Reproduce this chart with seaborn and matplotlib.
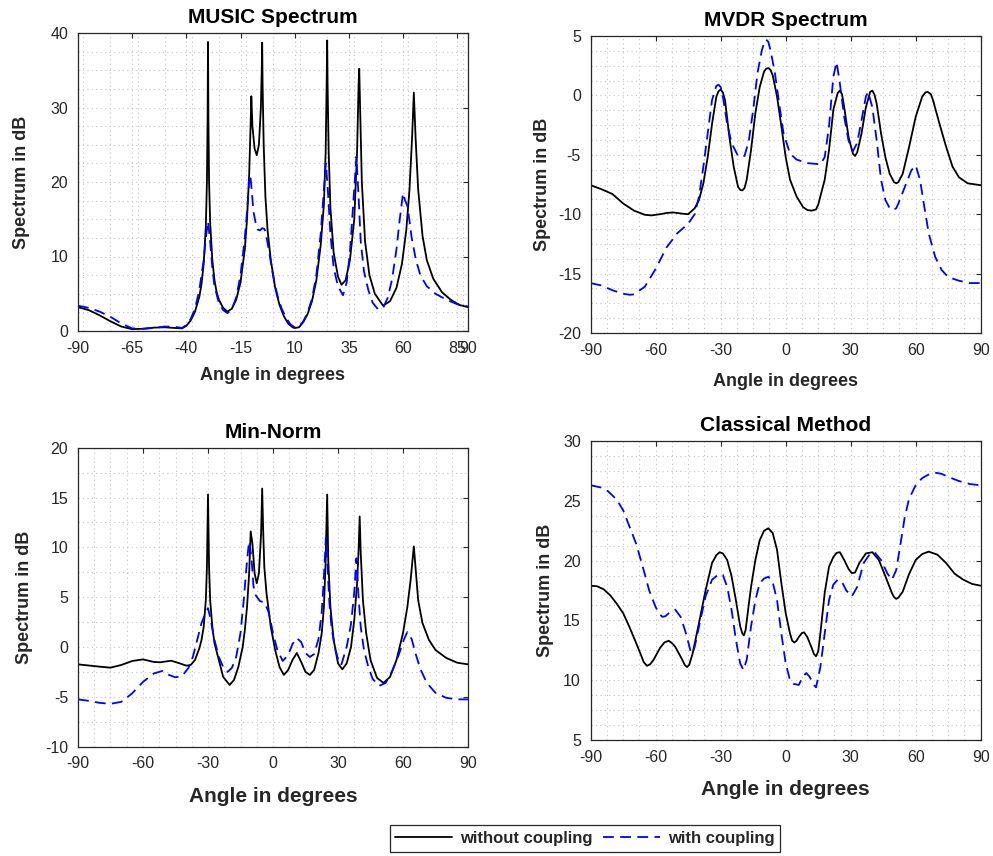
import numpy as np
import pandas as pd
import matplotlib
matplotlib.use("Agg")
import matplotlib.pyplot as plt
from matplotlib.ticker import MultipleLocator, FixedLocator
import seaborn as sns

# ---------------- data ----------------
series_labels = ["without coupling", "with coupling"]
titles = ["MUSIC Spectrum", "MVDR Spectrum", "Min-Norm", "Classical Method"]

# MUSIC
music_ang_wo = [-90, -85, -80, -75, -70, -65, -60, -55, -50, -45, -42, -40, -38, -36, -34, -33, -32, -31,
                -30.5, -30.2, -30, -29.8, -29.5, -29, -28, -27, -26, -25, -23, -21, -19, -17, -15, -13, -12,
                -11, -10.3, -10, -9.5, -8.5, -7.5, -6.5, -5.6, -5.2, -5, -4.8, -4.3, -3.5, -2.5, -1, 1, 3, 5,
                7, 9, 10, 12, 14, 16, 18, 20, 22, 23.5, 24.3, 24.8, 25, 25.2, 25.7, 26.5, 28, 30, 31.6, 33.5,
                35.5, 37.5, 38.8, 39.5, 39.8, 40.2, 41, 42.5, 44.5, 47, 50.8, 54, 57, 59.5, 61.5, 63, 64.2,
                65, 65.8, 67, 69, 71, 74, 78, 82, 86, 90]
music_db_wo = [3.2, 2.8, 2.1, 1.3, 0.6, 0.25, 0.3, 0.45, 0.5, 0.4, 0.35, 0.7, 1.4, 2.6, 4.6, 6.3, 9.0, 14,
               20, 28, 38.8, 28, 20, 14.5, 9.5, 6.8, 5.2, 4.2, 3.1, 2.6, 3.0, 4.2, 6.5, 11, 15,
               21, 28, 31.5, 27.5, 24.5, 23.6, 25, 30, 35, 38.7, 33, 25, 18, 13.5, 9.5, 5.8, 3.5, 2.0,
               1.0, 0.5, 0.4, 0.5, 1.2, 2.3, 4.0, 6.8, 11.5, 17, 24, 34, 39, 33, 24, 16.5, 10.5, 7.3, 6.2, 6.8,
               9.5, 15, 24, 33, 35.2, 30, 20, 12, 7.5, 5, 3.4, 4.0, 5.8, 9, 13.5, 19, 26,
               32, 26, 19, 12.8, 9.5, 7, 5.2, 4.2, 3.5, 3.2]
music_ang_w = [-90, -85, -80, -75, -70, -65, -60, -55, -50, -45, -42, -40, -38, -36, -34, -32, -31, -30,
               -29, -28, -27, -25, -23, -21, -19, -17, -15, -13, -12, -11, -10.5, -10, -9, -8, -7, -6, -5,
               -4, -3.5, -2, 0, 2, 4, 6, 8, 10, 12, 14, 16, 18, 20, 22, 23.5, 24.4, 25.3, 26.5, 28, 30, 32.3,
               34, 35.5, 37, 38.5, 39.5, 40.5, 42, 44, 46, 48.5, 51, 53, 55, 57, 58.5, 60, 61, 62, 63, 64,
               66, 68, 71, 75, 80, 85, 90]
music_db_w = [3.4, 3.1, 2.6, 1.9, 1.0, 0.35, 0.3, 0.4, 0.6, 0.55, 0.4, 0.8, 1.6, 3.0, 5.5, 9.5, 12.5, 14.7,
              12, 8.5, 6, 3.8, 2.8, 2.4, 2.9, 4.5, 7.5, 12.5, 16, 20, 21, 19.5, 16, 14.5, 13.6, 13.5, 13.8,
              13.7, 13.4, 11, 7.5, 4.8, 3, 1.8, 0.9, 0.5, 0.6, 1.3, 2.5, 4.3, 7.5, 13, 19, 22.5, 19, 13, 8.5, 6, 4.8,
              6.5, 10.5, 17, 23.4, 18, 12, 8, 5.5, 3.8, 2.9, 3.2, 4.5, 7, 11, 15, 18.5, 17.5, 16.8, 14.8, 12.5,
              9.5, 7.5, 6, 5, 4.2, 3.6, 3.3]

# MVDR
mvdr_ang_wo = [-90, -85, -80, -75, -70, -65, -62, -58, -55, -52, -48, -45, -42, -40, -38, -36, -34, -32, -31,
               -30, -29, -28, -26, -24, -22, -21, -20, -19, -18, -16, -14, -12, -10, -9, -8, -7, -6, -4, -2,
               0, 2, 5, 8, 10, 12, 14, 15, 18, 20, 22, 24, 25, 26, 27, 29, 31, 32, 33, 35, 37, 39, 40, 41,
               42, 44, 46, 48, 50, 51, 52, 54, 57, 60, 63, 64.5, 65.5, 67, 68, 71, 74, 77, 80, 84, 90]
mvdr_db_wo = [-7.56, -7.9, -8.3, -9.1, -9.7, -10.05, -10.1, -10.0, -9.9, -9.85, -9.95, -10, -9.5, -8.8, -7.4,
              -5.2, -2.4, -0.1, 0.35, 0.5, 0.25, -0.4, -3.5, -6, -7.7, -7.95, -8.0, -7.8, -7.1, -4.6, -1.5, 0.7,
              2.0, 2.25, 2.3, 2.15, 1.7, -0.1, -2.6, -5.2, -7.1, -8.5, -9.4, -9.65, -9.7, -9.6, -9.2, -7.1,
              -4.6, -1.2, 0.2, 0.4, 0.1, -1, -3.5, -4.9, -5.1, -4.8, -3.2, -1, 0.3, 0.4, 0.05, -0.7, -3.2,
              -5.2, -6.6, -7.3, -7.4, -7.3, -6.6, -4.3, -1.8, -0.1, 0.25, 0.3, 0.1, -0.4, -2.4, -4.3, -6,
              -6.9, -7.4, -7.56]
mvdr_ang_w = [-90, -85, -80, -75, -72, -70, -65, -60, -55, -50, -45, -42, -40, -38, -36, -34, -32, -31, -30,
              -29, -27, -25, -22, -19, -17, -15, -13, -11, -10, -9, -8, -7, -5, -3, -1, 2, 5, 10, 16, 18,
              20, 22, 23.5, 25, 27, 29, 31, 33, 35, 37, 38, 40, 42, 44, 46, 48, 49.5, 51, 52, 55, 58, 60, 62,
              64, 66, 69, 72, 75, 80, 85, 90]
mvdr_db_w = [-15.8, -16, -16.4, -16.7, -16.78, -16.75, -16.1, -14.6, -12.8, -11.6, -10.8, -10, -8.5, -6, -3.2,
             -0.4, 0.8, 0.9, 0.7, -0.1, -2.4, -4, -5.1, -5.1, -3.8, -1.2, 1.9, 3.8, 4.4, 4.7, 4.5, 3.8, 1.9,
             -0.7, -3.2, -4.9, -5.4, -5.7, -5.8, -5.2, -2.6, 1.6, 2.8, 1, -1.8, -3.8, -4.7, -4, -2.1, -0.1,
             0.3, -1, -3.8, -7.1, -8.8, -9.5, -9.65, -9.5, -9.1, -7.7, -6.3, -5.9, -7.1, -9.4, -11.6, -13.6,
             -14.7, -15.3, -15.6, -15.8, -15.8]

# Min-Norm
mn_ang_wo = [-90, -80, -75, -70, -65, -60, -55, -52, -47, -43, -40, -38, -36, -34, -33, -32, -31, -30.5, -30,
             -29.5, -29, -28, -27, -25, -23, -20, -18, -16, -14, -13, -12, -11, -10.3, -9.5, -8.5, -7.5,
             -6.5, -5.5, -5, -4.5, -4, -3, -1, 1, 3, 5, 7, 9, 11, 13, 15, 17, 19, 21, 22.5, 23.5, 24.3, 25,
             25.5, 26.5, 28, 30, 32, 34, 36, 37.5, 38.8, 39.5, 40, 40.5, 41.5, 43, 45, 48, 51, 54, 57, 60,
             62, 63.5, 65, 66, 67, 69, 72, 75, 80, 85, 90]
mn_db_wo = [-1.74, -1.97, -2.07, -1.8, -1.4, -1.24, -1.5, -1.53, -1.37, -1.64, -1.87, -1.8, -1.3, -0.13, 0.7,
            2.0, 4.7, 8, 15.3, 8, 4.7, 2.0, 0.37, -1.3, -3, -3.8, -3.3, -2, 0, 1.7, 4.0, 7.4, 11.6, 10.4, 7.4,
            6.4, 7.4, 11.4, 15.9, 11.4, 8, 5.4, 2.0, -0.3, -2, -2.8, -2.3, -1.3, -0.6, -1.5, -2.5, -2.8,
            -2.3, -0.6, 1.4, 4, 8.7, 15.3, 8.7, 4, 0.7, -1.64, -2.24, -1.64, 0, 2.7, 6.4, 9.7, 13.1, 9.4,
            4.7, 1.4, -1.3, -3.1, -3.6, -3.0, -1.3, 1.4, 4, 6.7, 10.1, 7.4, 4.7, 2.4, 0.7, -0.3, -1.1,
            -1.57, -1.74]
mn_ang_w = [-90, -85, -80, -75, -70, -65, -60, -55, -51, -48, -45, -42, -39, -37, -35, -33, -31, -30, -29,
            -27, -25, -23, -21, -19, -17, -15, -13.5, -12.5, -11.5, -11, -10, -9, -8, -6, -4, -2, 0, 2,
            4.5, 7, 9, 11, 13, 15, 17, 19, 21, 22.5, 23.5, 24.4, 25.2, 26, 27, 28.5, 30, 31.5, 34, 36,
            37.5, 38.5, 39.5, 40.5, 42, 44, 46, 49, 52, 55, 58, 60.5, 62, 64, 66, 68, 71, 75, 80, 85, 90]
mn_db_w = [-5.25, -5.4, -5.6, -5.7, -5.5, -4.65, -3.5, -2.65, -2.4, -2.8, -3.04, -2.9, -2.1, -1, 0.7, 2.4,
           3.5, 3.9, 3, 0.7, -1, -2, -2.5, -2.1, -1, 1.4, 4.7, 7.4, 9.7, 10.6, 9.1, 6.1, 5.2, 4.6, 4.5,
           3.5, 1.4, -0.3, -1.4, -0.8, 0.3, 0.9, 0.5, -0.6, -1.0, -0.7, 0.8, 3.5, 7, 11.0, 8, 4.5, 2, 0,
           -1.2, -1.8, 0, 2.3, 5.5, 8.9, 5, 2, -0.3, -2, -3.2, -3.9, -3.6, -2.4, -0.8, 0.8, 1.5, 0.8, -0.8,
           -2.2, -3.6, -4.6, -5.1, -5.25, -5.25]

# Classical
cl_ang_wo = [-90, -87, -84, -81, -78, -75, -72, -69, -67, -65.5, -64, -62.5, -61, -58, -56, -54, -52.5, -51,
             -48, -46.5, -45.5, -44.5, -43, -40, -37, -34, -32, -30.5, -29, -27, -25, -23, -21, -20, -19.3,
             -18.5, -17, -16, -14, -12, -10, -8, -6, -4, -2, 0, 2, 3, 4, 5, 6, 7.5, 8.5, 10, 12, 13, 14, 15,
             16, 18, 20, 22, 23.5, 25, 27, 29, 30.5, 32, 34, 37, 40, 43, 46, 49, 50, 51, 52, 54, 57, 60, 63,
             66, 70, 74, 78, 82, 86, 90]
cl_db_wo = [17.9, 17.85, 17.6, 17.1, 16.4, 15.6, 14.4, 13.1, 12.2, 11.5, 11.2, 11.35, 11.7, 12.7, 13.15, 13.3,
            13.1, 12.8, 11.8, 11.25, 11.1, 11.3, 12.2, 14.8, 17.5, 19.8, 20.45, 20.7, 20.6, 20.05, 18.7,
            16.7, 14.5, 13.9, 13.75, 14.2, 16.4, 17.8, 20.05, 21.7, 22.5, 22.7, 22.3, 20.9, 18.1, 15.6, 13.9,
            13.3, 13.15, 13.3, 13.6, 13.95, 14.0, 13.6, 12.7, 12.2, 12.0, 12.4, 13.9, 17.3, 19.5, 20.3,
            20.65, 20.7, 20.05, 19.3, 18.95, 19.0, 19.8, 20.6, 20.7, 20.05, 18.7, 17.3, 16.95, 16.8, 16.9,
            17.4, 18.9, 20.05, 20.55, 20.75, 20.5, 19.8, 18.9, 18.4, 18.05, 17.9]
cl_ang_w = [-90, -85, -82, -78, -75, -72, -69, -66, -63, -60, -58, -57, -55.5, -54, -51, -48.5, -46, -44, -43,
            -42, -40, -37, -34, -31, -29, -27, -25, -23, -21, -19.5, -18, -16, -14, -12, -10, -8, -6, -4,
            -2, 0, 2, 3.5, 6, 8, 9.5, 11, 13, 14, 16, 18, 20, 22, 24, 26, 28, 30.5, 33, 36, 39, 41, 44, 47,
            49, 51, 53, 55, 57, 60, 63, 66, 69, 72, 75, 80, 85, 90]
cl_db_w = [26.3, 26.1, 25.8, 25.1, 24.2, 22.8, 21.4, 19.5, 17.5, 16.1, 15.5, 15.3, 15.35, 15.6, 15.9, 15.3,
           13.9, 12.5, 12.25, 12.8, 14.5, 17, 18.4, 18.85, 18.8, 17.8, 15.9, 13.4, 11.4, 10.85, 11.7, 14.5,
           16.7, 18.1, 18.5, 18.65, 18.2, 16.7, 13.9, 11.4, 10.0, 9.7, 9.6, 10.3, 10.6, 10.3, 9.6, 9.4,
           11.1, 13.9, 16.7, 18, 18.4, 18.2, 17.5, 17.0, 17.8, 19.8, 20.6, 20.7, 20.05, 18.9, 18.4, 19.2,
           21.4, 23.7, 25.2, 26.3, 26.9, 27.2, 27.35, 27.25, 27.0, 26.65, 26.4, 26.3]

panels = [
    (music_ang_wo, music_db_wo, music_ang_w, music_db_w),
    (mvdr_ang_wo, mvdr_db_wo, mvdr_ang_w, mvdr_db_w),
    (mn_ang_wo, mn_db_wo, mn_ang_w, mn_db_w),
    (cl_ang_wo, cl_db_wo, cl_ang_w, cl_db_w),
]
xticks_list = [[-90, -65, -40, -15, 10, 35, 60, 85, 90],
               [-90, -60, -30, 0, 30, 60, 90],
               [-90, -60, -30, 0, 30, 60, 90],
               [-90, -60, -30, 0, 30, 60, 90]]
ylims = [(0, 40), (-20, 5), (-10, 20), (5, 30)]
ystep = [10, 5, 5, 5]

# ---------------- style ----------------
sns.set_theme(style="white")
plt.rcParams['font.family'] = ['Liberation Sans', 'DejaVu Sans']
plt.rcParams['axes.unicode_minus'] = False
dark = '#262626'

fig = plt.figure(figsize=(9.93, 8.56), dpi=100)
W, H = 993.0, 856.0
# axes boxes in pixels: left, top, right, bottom
boxes = [(78, 33, 468, 331), (590.7, 36, 980.7, 333), (78, 447.7, 468, 746.7), (590.7, 441, 980.7, 740)]
xminor = [12.5, 7.5, 7.5, 7.5]
yminor = [2.5, 1.25, 2.5, 1.25]
xlabel_size = [13, 13, 15, 15]
xlabel_top = [367, 373, 787, 780]
ylabel_right = [30, 551, 33, 554]

axes = []
for i, (l, t, r, b) in enumerate(boxes):
    ax = fig.add_axes([l / W, 1 - b / H, (r - l) / W, (b - t) / H])
    axes.append(ax)
    xa_wo, ya_wo, xa_w, ya_w = panels[i]
    d_wo = pd.DataFrame({"angle": xa_wo, "db": ya_wo})
    d_w = pd.DataFrame({"angle": xa_w, "db": ya_w})
    sns.lineplot(data=d_wo, x="angle", y="db", ax=ax, color='black', linewidth=1.3,
                 estimator=None, sort=False, label=series_labels[0], legend=False)
    sns.lineplot(data=d_w, x="angle", y="db", ax=ax, color='#0000ff', linewidth=1.3,
                 linestyle=(0, (6, 3.5)), estimator=None, sort=False, label=series_labels[1], legend=False)
    if ax.get_legend() is not None:
        ax.get_legend().remove()

    ax.set_xlim(-90, 90)
    ax.set_ylim(*ylims[i])
    ax.xaxis.set_major_locator(FixedLocator(xticks_list[i]))
    ax.yaxis.set_major_locator(MultipleLocator(ystep[i]))
    ax.xaxis.set_minor_locator(MultipleLocator(xminor[i]))
    ax.yaxis.set_minor_locator(MultipleLocator(yminor[i]))
    ax.grid(True, which='both', color='#c4c4c4', linestyle=(0, (1, 3)), linewidth=0.8)
    ax.set_axisbelow(True)
    ax.tick_params(which='major', direction='in', length=3.5, width=0.8, color=dark,
                   top=True, right=True, labelsize=11.5, labelcolor=dark, pad=7)
    ax.tick_params(which='minor', length=0, top=True, right=True)
    for s in ax.spines.values():
        s.set_color(dark)
        s.set_linewidth(0.9)
        s.set_visible(True)

    ax.set_title(titles[i], fontsize=15, fontweight='bold', color='black', pad=7)
    ax.set_xlabel("Angle in degrees", fontsize=xlabel_size[i], fontweight='bold', color=dark)
    ax.set_ylabel("Spectrum in dB", fontsize=13, fontweight='bold', color=dark)
    hpx = b - t
    wpx = r - l
    ax.xaxis.set_label_coords(0.5, (b - xlabel_top[i]) / hpx)
    ax.yaxis.set_label_coords((ylabel_right[i] - l) / wpx, 0.5)

handles = axes[0].get_lines()[:2]
leg = fig.legend(handles, series_labels, loc='center', bbox_to_anchor=(585 / W, 1 - 838.5 / H),
                 ncol=2, frameon=True, fancybox=False, framealpha=1, edgecolor=dark,
                 prop={'weight': 'bold', 'size': 12}, handlelength=3.4, handletextpad=0.5,
                 columnspacing=0.6, borderpad=0.35, borderaxespad=0)
leg.get_frame().set_linewidth(0.9)

fig.savefig("out.png", dpi=100)
